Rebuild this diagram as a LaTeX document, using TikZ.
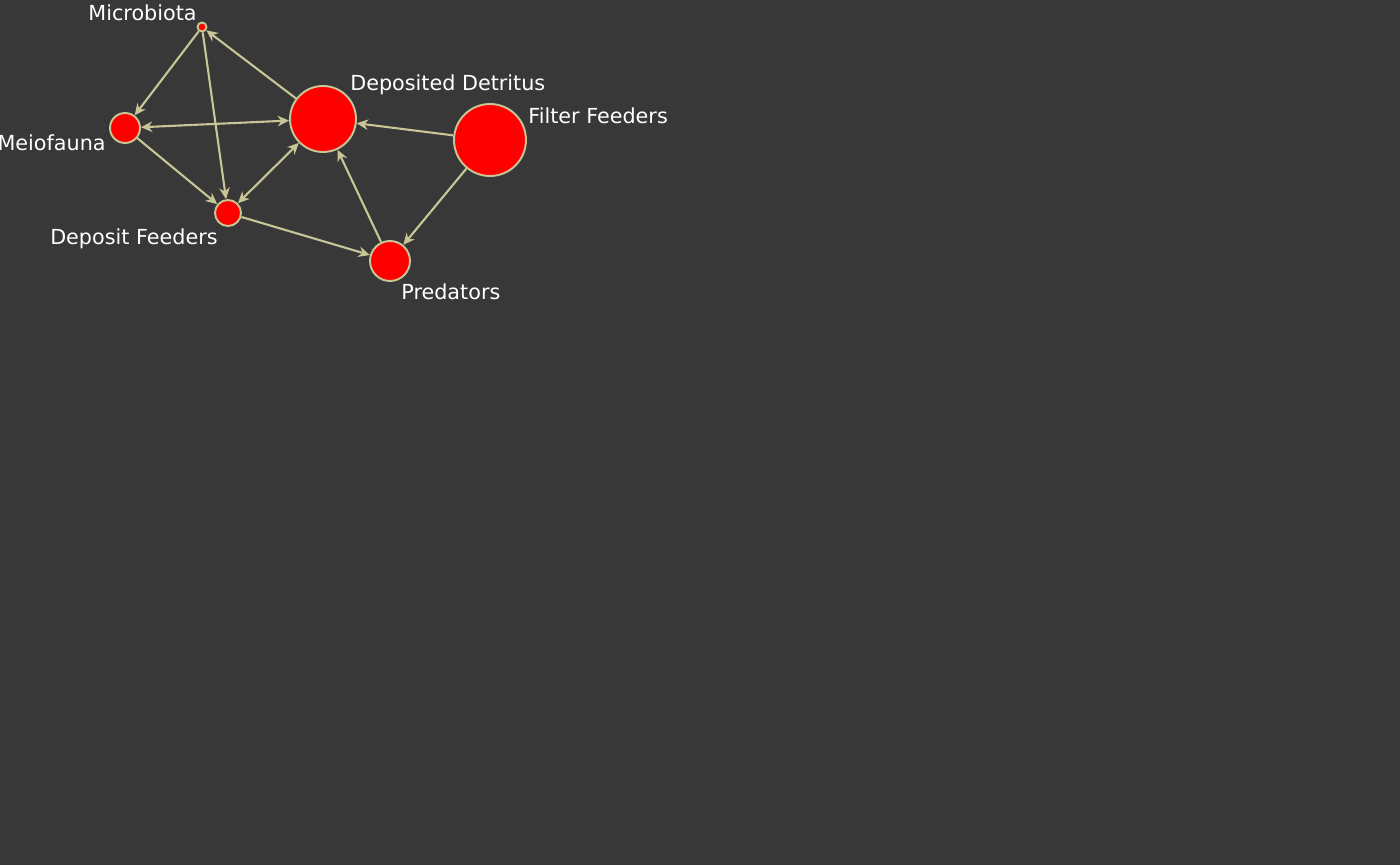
\documentclass[tikz,border=0pt]{standalone}
\usepackage{fontspec}
\setmainfont{DejaVu Sans}
\usetikzlibrary{arrows.meta}
\definecolor{bgcol}{HTML}{383838}
\definecolor{linkcol}{HTML}{C8C596}
\tikzset{
  link/.style={draw=linkcol,line width=1.2pt,-{Stealth[length=6.5pt,width=6pt]}},
  twolink/.style={link,{Stealth[length=6.5pt,width=6pt]}-{Stealth[length=6.5pt,width=6pt]}},
  lbl/.style={text=white,inner sep=0pt,font=\fontsize{11.8pt}{14pt}\selectfont}
}
\begin{document}
\begin{tikzpicture}[x=0.02cm,y=-0.02cm]
\useasboundingbox (0,0) rectangle (1400,865);
\fill[bgcol] (0,0) rectangle (1400,865);

\begin{scope}[every node/.style={circle,draw=linkcol,fill=red,line width=1.1pt,inner sep=0pt}]
  \node[minimum size=0.18cm] (micro) at (202,27)  {};
  \node[minimum size=0.6cm]  (meio)  at (125,128) {};
  \node[minimum size=0.52cm] (depf)  at (228,213) {};
  \node[minimum size=1.32cm] (detr)  at (323,119) {};
  \node[minimum size=1.44cm] (filt)  at (490,140) {};
  \node[minimum size=0.8cm]  (pred)  at (390,261) {};
\end{scope}

\node[lbl,anchor=base east] (microlbl) at (197,21)  {Microbiota};
\node[lbl,anchor=base east] (meiolbl)  at (106,151) {Meiofauna};
\node[lbl,anchor=base east] (depflbl)  at (218,244) {Deposit Feeders};
\node[lbl,anchor=base west] (detrlbl)  at (350,91)  {Deposited Detritus};
\node[lbl,anchor=base west] (filtlbl)  at (528,124) {Filter Feeders};
\node[lbl,anchor=base west] (predlbl)  at (401,299) {Predators};

\draw[link] (micro) -- (meio);
\draw[link] (micro) -- (depf);
\draw[link] (detr) -- (micro);
\draw[twolink] (meio) -- (detr);
\draw[link] (meio) -- (depf);
\draw[twolink] (depf) -- (detr);
\draw[link] (depf) -- (pred);
\draw[link] (filt) -- (detr);
\draw[link] (filt) -- (pred);
\draw[link] (pred) -- (detr);

\end{tikzpicture}
\end{document}
